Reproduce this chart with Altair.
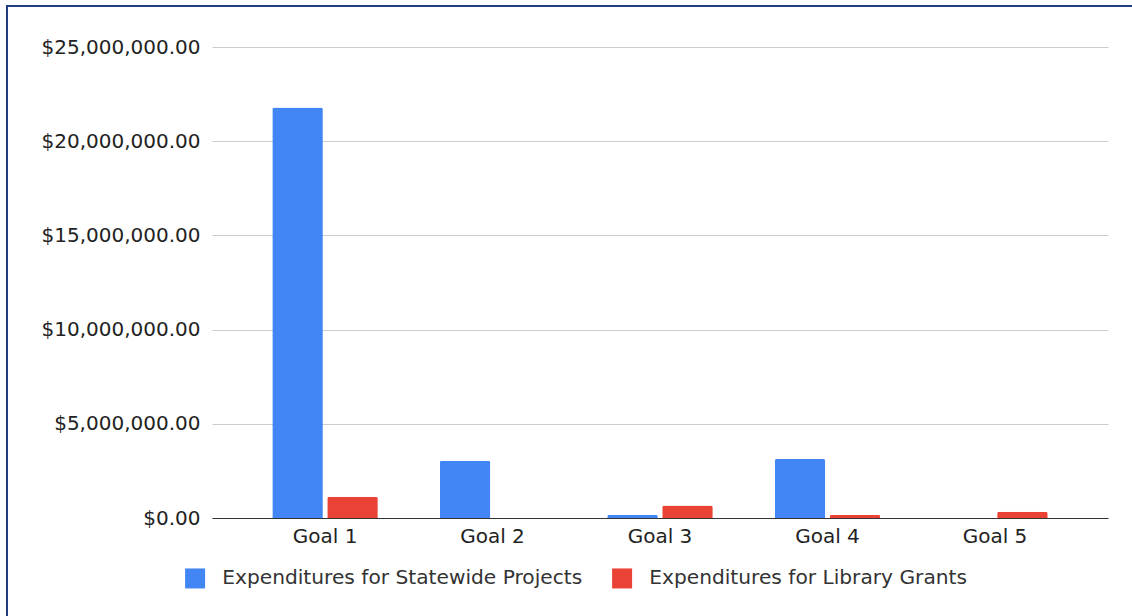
import altair as alt
import pandas as pd

# Expenditures by goal (USD)
goals = ["Goal 1", "Goal 2", "Goal 3", "Goal 4", "Goal 5"]
statewide = [21790000, 3040000, 160000, 3130000, 0]
library_grants = [1130000, 0, 670000, 160000, 330000]
series = ["Expenditures for Statewide Projects", "Expenditures for Library Grants"]
colors = ["#4285F4", "#EA4335"]
y_ticks = [0, 5000000, 10000000, 15000000, 20000000, 25000000]

rows = []
for g, s, l in zip(goals, statewide, library_grants):
    rows.append({"goal": g, "series": series[0], "amount": s})
    rows.append({"goal": g, "series": series[1], "amount": l})
df = pd.DataFrame(rows)

W, H = 896, 471
FONT = "DejaVu Sans"

bars = alt.Chart(df).mark_bar(cornerRadiusTopLeft=2, cornerRadiusTopRight=2).encode(
    x=alt.X(
        "goal:N", sort=goals, title=None,
        scale=alt.Scale(paddingInner=0.37, paddingOuter=0.36),
        axis=alt.Axis(labelAngle=0, domain=True, domainColor="#333333", domainWidth=1,
                      ticks=False, grid=False, labelPadding=8, labelFontSize=20,
                      labelColor="#222222", labelFont=FONT),
    ),
    xOffset=alt.XOffset("series:N", sort=series,
                        scale=alt.Scale(paddingInner=0.08, paddingOuter=0)),
    y=alt.Y(
        "amount:Q", title=None,
        scale=alt.Scale(domain=[0, 25000000], nice=False),
        axis=alt.Axis(values=y_ticks, format="$,.2f", domain=False, ticks=False,
                      grid=True, gridColor="#cccccc", gridWidth=1,
                      labelPadding=12, labelFontSize=20, labelColor="#222222",
                      labelFont=FONT),
    ),
    color=alt.Color(
        "series:N", sort=series,
        scale=alt.Scale(domain=series, range=colors),
        legend=alt.Legend(title=None, orient="none", legendX=-27, legendY=521,
                          direction="horizontal", symbolType="square", symbolSize=400,
                          symbolStrokeWidth=0, labelFontSize=20.2, labelColor="#333333",
                          labelFont=FONT, labelOffset=17, columnPadding=29,
                          labelLimit=600),
    ),
)

# Frame lines along the left and top edges
frame = pd.DataFrame({"k": [0]})
left_edge = alt.Chart(frame).mark_rule(color="#1f3d7f", strokeWidth=2).encode(
    x=alt.value(-205), x2=alt.value(-205), y=alt.value(-41), y2=alt.value(580)
)
top_edge = alt.Chart(frame).mark_rule(color="#1f3d7f", strokeWidth=2).encode(
    x=alt.value(-206), x2=alt.value(930), y=alt.value(-41), y2=alt.value(-41)
)

chart = alt.layer(bars, left_edge, top_edge).properties(
    width=W, height=H,
    padding={"left": 212, "top": 47, "right": 24, "bottom": 98},
    autosize=alt.AutoSizeParams(type="none"),
    background="white",
).configure(font=FONT).configure_view(stroke="transparent", strokeWidth=0)

chart.save("out.html", embed_options={"renderer": "svg", "actions": False})
